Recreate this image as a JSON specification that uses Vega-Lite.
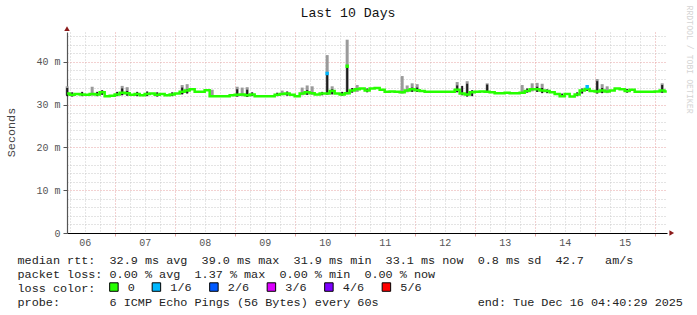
{
  "$schema": "https://vega.github.io/schema/vega-lite/v6.json",
  "width": 600,
  "height": 201,
  "autosize": {"type": "none"},
  "padding": {"left": 67, "top": 32, "right": 30, "bottom": 82},
  "background": "#ffffff",
  "config": {
    "view": {"stroke": null},
    "font": "Liberation Mono",
    "axis": {"labelFont": "Liberation Mono", "titleFont": "Liberation Mono"},
    "legend": {"labelFont": "Liberation Mono", "titleFont": "Liberation Mono"}
  },
  "title": {"text": "Last 10 Days", "font": "Liberation Mono", "fontSize": 13.2, "fontWeight": "normal", "color": "#111111", "anchor": "middle", "frame": "group", "dx": -19, "offset": -15},
  "resolve": {"axis": {"y": "independent"}},
  "data": {
    "values": [
      {"t":"2025-12-06T05:00Z","m":32.6,"g1":32.2,"g2":34.3,"d1":32.0,"d2":33.9},
      {"t":"2025-12-06T07:00Z","m":32.3,"d1":31.9,"d2":32.9},
      {"t":"2025-12-06T09:00Z","m":32.5},
      {"t":"2025-12-06T11:00Z","m":32.4,"d1":32.0,"d2":33.0},
      {"t":"2025-12-06T13:00Z","m":32.3},
      {"t":"2025-12-06T15:00Z","m":32.5,"g1":32.1,"g2":34.2},
      {"t":"2025-12-06T17:00Z","m":32.4,"d1":32.0,"d2":33.0},
      {"t":"2025-12-06T19:00Z","m":32.9,"d1":32.3,"d2":33.4},
      {"t":"2025-12-06T21:00Z","m":32.0},
      {"t":"2025-12-06T23:00Z","m":32.1},
      {"t":"2025-12-07T01:00Z","m":32.4,"d1":32.0,"d2":33.0},
      {"t":"2025-12-07T03:00Z","m":32.8,"g1":32.3,"g2":34.4,"d1":32.2,"d2":33.8},
      {"t":"2025-12-07T05:00Z","m":32.7,"g1":32.2,"g2":34.1,"d1":32.1,"d2":33.2},
      {"t":"2025-12-07T07:00Z","m":32.3},
      {"t":"2025-12-07T09:00Z","m":32.5,"d1":32.0,"d2":33.0},
      {"t":"2025-12-07T11:00Z","m":32.2},
      {"t":"2025-12-07T13:00Z","m":32.5,"d1":32.0,"d2":33.1},
      {"t":"2025-12-07T15:00Z","m":32.6},
      {"t":"2025-12-07T17:00Z","m":32.3,"d1":31.9,"d2":32.9},
      {"t":"2025-12-07T19:00Z","m":32.5},
      {"t":"2025-12-07T21:00Z","m":32.2},
      {"t":"2025-12-07T23:00Z","m":32.4,"d1":32.0,"d2":32.9},
      {"t":"2025-12-08T01:00Z","m":32.6},
      {"t":"2025-12-08T03:00Z","m":33.0,"g1":32.5,"g2":34.6,"d1":32.4,"d2":34.0},
      {"t":"2025-12-08T05:00Z","m":33.3,"g1":32.8,"g2":34.8,"d1":32.6,"d2":33.6},
      {"t":"2025-12-08T07:00Z","m":33.6},
      {"t":"2025-12-08T09:00Z","m":33.0},
      {"t":"2025-12-08T11:00Z","m":33.0},
      {"t":"2025-12-08T13:00Z","m":33.4},
      {"t":"2025-12-08T15:00Z","m":32.0,"g1":31.9,"g2":33.5},
      {"t":"2025-12-08T17:00Z","m":32.0},
      {"t":"2025-12-08T19:00Z","m":32.0},
      {"t":"2025-12-08T21:00Z","m":32.0},
      {"t":"2025-12-08T23:00Z","m":32.2},
      {"t":"2025-12-09T01:00Z","m":32.3,"g1":31.9,"g2":34.2,"d1":31.9,"d2":33.6},
      {"t":"2025-12-09T03:00Z","m":32.4,"g1":32.0,"g2":34.0},
      {"t":"2025-12-09T05:00Z","m":32.2,"g1":31.9,"g2":34.1,"d1":31.8,"d2":33.5},
      {"t":"2025-12-09T07:00Z","m":32.4,"d1":32.0,"d2":32.9},
      {"t":"2025-12-09T09:00Z","m":32.0},
      {"t":"2025-12-09T11:00Z","m":32.0},
      {"t":"2025-12-09T13:00Z","m":32.0},
      {"t":"2025-12-09T15:00Z","m":32.0},
      {"t":"2025-12-09T17:00Z","m":32.3,"d1":32.0,"d2":32.8},
      {"t":"2025-12-09T19:00Z","m":32.5,"g1":32.2,"g2":33.3},
      {"t":"2025-12-09T21:00Z","m":32.6,"d1":32.1,"d2":33.1},
      {"t":"2025-12-09T23:00Z","m":32.3},
      {"t":"2025-12-10T01:00Z","m":32.0},
      {"t":"2025-12-10T03:00Z","m":32.6,"g1":32.2,"g2":34.0},
      {"t":"2025-12-10T05:00Z","m":32.9,"g1":32.4,"g2":34.5,"d1":32.3,"d2":33.4},
      {"t":"2025-12-10T07:00Z","m":32.7,"g1":32.3,"g2":34.3},
      {"t":"2025-12-10T09:00Z","m":32.4},
      {"t":"2025-12-10T11:00Z","m":32.6,"d1":32.2,"d2":33.0},
      {"t":"2025-12-10T13:00Z","m":32.6,"g1":32.3,"g2":41.6,"d1":32.4,"d2":37.3,"pk":37.3,"loss":"1/6"},
      {"t":"2025-12-10T15:00Z","m":33.2,"g1":32.6,"g2":34.3,"d1":32.4,"d2":33.6},
      {"t":"2025-12-10T17:00Z","m":32.6},
      {"t":"2025-12-10T19:00Z","m":32.4,"d1":32.1,"d2":33.0},
      {"t":"2025-12-10T21:00Z","m":32.7,"g1":32.4,"g2":45.2,"d1":32.5,"d2":39.0,"pk":39.0,"loss":"0"},
      {"t":"2025-12-10T23:00Z","m":33.3,"d1":32.8,"d2":33.9},
      {"t":"2025-12-11T01:00Z","m":33.6,"g1":33.0,"g2":34.6},
      {"t":"2025-12-11T03:00Z","m":33.8},
      {"t":"2025-12-11T05:00Z","m":33.3,"d1":32.9,"d2":33.8},
      {"t":"2025-12-11T07:00Z","m":33.8},
      {"t":"2025-12-11T09:00Z","m":33.9},
      {"t":"2025-12-11T11:00Z","m":33.5},
      {"t":"2025-12-11T13:00Z","m":33.0},
      {"t":"2025-12-11T15:00Z","m":33.1},
      {"t":"2025-12-11T17:00Z","m":33.0},
      {"t":"2025-12-11T19:00Z","m":32.9,"g1":32.6,"g2":36.7},
      {"t":"2025-12-11T21:00Z","m":33.3,"g1":32.9,"g2":34.5},
      {"t":"2025-12-11T23:00Z","m":33.6,"g1":33.1,"g2":35.0,"d1":33.0,"d2":34.0},
      {"t":"2025-12-12T01:00Z","m":33.4,"g1":33.0,"g2":34.8,"d1":33.0,"d2":34.0},
      {"t":"2025-12-12T03:00Z","m":33.2},
      {"t":"2025-12-12T05:00Z","m":33.0},
      {"t":"2025-12-12T07:00Z","m":33.0},
      {"t":"2025-12-12T09:00Z","m":33.0},
      {"t":"2025-12-12T11:00Z","m":33.0},
      {"t":"2025-12-12T13:00Z","m":33.0},
      {"t":"2025-12-12T15:00Z","m":33.0},
      {"t":"2025-12-12T17:00Z","m":33.5,"g1":33.0,"g2":35.3,"d1":32.9,"d2":34.5},
      {"t":"2025-12-12T19:00Z","m":32.6,"d1":32.2,"d2":34.4},
      {"t":"2025-12-12T21:00Z","m":32.4,"g1":32.0,"g2":35.5,"d1":31.9,"d2":34.9},
      {"t":"2025-12-12T23:00Z","m":32.9,"d1":32.0,"d2":33.4},
      {"t":"2025-12-13T01:00Z","m":33.0},
      {"t":"2025-12-13T03:00Z","m":33.1},
      {"t":"2025-12-13T05:00Z","m":33.0,"g1":32.8,"g2":35.0,"d1":32.8,"d2":34.7},
      {"t":"2025-12-13T07:00Z","m":32.9},
      {"t":"2025-12-13T09:00Z","m":32.7},
      {"t":"2025-12-13T11:00Z","m":32.7},
      {"t":"2025-12-13T13:00Z","m":32.8},
      {"t":"2025-12-13T15:00Z","m":32.7},
      {"t":"2025-12-13T17:00Z","m":32.7},
      {"t":"2025-12-13T19:00Z","m":32.8,"g1":32.5,"g2":34.6},
      {"t":"2025-12-13T21:00Z","m":33.2,"d1":32.8,"d2":33.8},
      {"t":"2025-12-13T23:00Z","m":33.6,"g1":33.1,"g2":35.0},
      {"t":"2025-12-14T01:00Z","m":33.6,"g1":33.0,"g2":35.1,"d1":33.0,"d2":34.2},
      {"t":"2025-12-14T03:00Z","m":33.3,"g1":32.9,"g2":34.9,"d1":32.7,"d2":33.9},
      {"t":"2025-12-14T05:00Z","m":33.2,"d1":32.7,"d2":33.6},
      {"t":"2025-12-14T07:00Z","m":32.9},
      {"t":"2025-12-14T09:00Z","m":32.5},
      {"t":"2025-12-14T11:00Z","m":32.0,"d1":31.8,"d2":32.6},
      {"t":"2025-12-14T13:00Z","m":32.5},
      {"t":"2025-12-14T15:00Z","m":31.9},
      {"t":"2025-12-14T17:00Z","m":32.4,"d1":32.0,"d2":32.9},
      {"t":"2025-12-14T19:00Z","m":33.3,"d1":32.6,"d2":33.8},
      {"t":"2025-12-14T21:00Z","m":33.7,"d1":33.2,"d2":34.3,"pk":34.2,"loss":"1/6"},
      {"t":"2025-12-14T23:00Z","m":33.2},
      {"t":"2025-12-15T01:00Z","m":33.1,"g1":32.7,"g2":36.0,"d1":32.6,"d2":35.5},
      {"t":"2025-12-15T03:00Z","m":33.3,"g1":32.8,"g2":34.8,"d1":32.7,"d2":33.9},
      {"t":"2025-12-15T05:00Z","m":33.1,"g1":32.7,"g2":34.3},
      {"t":"2025-12-15T07:00Z","m":33.3},
      {"t":"2025-12-15T09:00Z","m":33.8},
      {"t":"2025-12-15T11:00Z","m":33.6},
      {"t":"2025-12-15T13:00Z","m":33.2,"d1":32.8,"d2":33.7},
      {"t":"2025-12-15T15:00Z","m":33.5},
      {"t":"2025-12-15T17:00Z","m":33.0},
      {"t":"2025-12-15T19:00Z","m":33.0},
      {"t":"2025-12-15T21:00Z","m":33.0},
      {"t":"2025-12-15T23:00Z","m":33.0},
      {"t":"2025-12-16T01:00Z","m":33.1},
      {"t":"2025-12-16T03:00Z","m":33.3,"g1":32.8,"g2":35.0,"d1":32.8,"d2":34.6},
      {"t":"2025-12-16T04:50Z","m":33.1}
    ]
  },
  "layer": [
    {
      "mark": {"type": "rule", "color": "#9a9a9a", "strokeWidth": 3},
      "encoding": {
        "x": {
          "field": "t", "type": "temporal",
          "scale": {"type": "utc", "domain": [1764996960000, 1765860960000]},
          "axis": {
            "orient": "bottom",
            "tickCount": 40,
            "labelExpr": "utchours(datum.value) == 12 ? utcFormat(datum.value, '%d') : ''",
            "labelFontSize": 10, "labelColor": "#555555", "labelPadding": 1,
            "labelOverlap": false, "labelBound": false, "labelFlush": false,
            "grid": true,
            "gridColor": {"condition": {"test": "utchours(datum.value) == 0", "value": "#e6a3a3"}, "value": "#cccccc"},
            "gridDash": [1, 2],
            "ticks": true, "tickSize": 3,
            "tickColor": {"condition": {"test": "utchours(datum.value) == 0", "value": "#e6a3a3"}, "value": "rgba(0,0,0,0)"},
            "domain": true, "domainColor": "#000000", "domainWidth": 1.2,
            "title": [
              "median rtt:\u00a0\u00a032.9 ms avg\u00a0\u00a039.0 ms max\u00a0\u00a031.9 ms min\u00a0\u00a033.1 ms now\u00a0\u00a00.8 ms sd\u00a0\u00a042.7\u00a0\u00a0\u00a0am/s",
              "packet loss: 0.00 % avg\u00a0\u00a01.37 % max\u00a0\u00a00.00 % min\u00a0\u00a00.00 % now",
              "loss color:",
              "probe:\u00a0\u00a0\u00a0\u00a0\u00a0\u00a0\u00a06 ICMP Echo Pings (56 Bytes) every 60s\u00a0\u00a0\u00a0\u00a0\u00a0\u00a0\u00a0\u00a0\u00a0\u00a0\u00a0\u00a0\u00a0\u00a0end: Tue Dec 16 04:40:29 2025"
            ],
            "titleX": -50, "titleY": 30, "titleAlign": "left",
            "titleBaseline": "alphabetic", "titleLineHeight": 14,
            "titleFontSize": 11.8, "titleFontWeight": "normal", "titleColor": "#222222"
          }
        },
        "y": {
          "field": "g1", "type": "quantitative",
          "scale": {"domain": [0, 47], "nice": false, "zero": false},
          "axis": {
            "orient": "left",
            "values": [0, 2, 4, 6, 8, 10, 12, 14, 16, 18, 20, 22, 24, 26, 28, 30, 32, 34, 36, 38, 40, 42, 44, 46],
            "labelExpr": "datum.value % 10 === 0 ? (datum.value === 0 ? '0' : datum.value + ' m') : ''",
            "labelFontSize": 10, "labelColor": "#555555", "labelPadding": 3,
            "labelOverlap": false, "labelBound": false, "labelFlush": false,
            "grid": true,
            "gridColor": {"condition": {"test": "datum.value % 10 === 0", "value": "#e6a3a3"}, "value": "#c8c8c8"},
            "gridDash": [1, 2],
            "ticks": true, "tickSize": 4,
            "tickColor": {"condition": {"test": "datum.value % 10 === 0", "value": "#555555"}, "value": "rgba(0,0,0,0)"},
            "domain": true, "domainColor": "#555555", "domainWidth": 1.2,
            "title": "Seconds",
            "titleX": -57, "titleY": 100, "titleAngle": -90, "titleAlign": "center", "titleBaseline": "middle",
            "titleFontSize": 11.8, "titleFontWeight": "normal", "titleColor": "#444444"
          }
        },
        "y2": {"field": "g2"}
      }
    },
    {
      "mark": {"type": "rule", "color": "#1c1c1c", "strokeWidth": 2},
      "encoding": {
        "x": {"field": "t", "type": "temporal"},
        "y": {
          "field": "d1", "type": "quantitative",
          "axis": {
            "orient": "right", "labels": false, "ticks": false, "domain": false, "grid": false,
            "title": "RRDTOOL / TOBI OETIKER", "titleX": 21, "titleY": -27, "titleAngle": 90,
            "titleAlign": "left", "titleBaseline": "middle",
            "titleFontSize": 8.2, "titleFontWeight": "normal", "titleColor": "#d4d4d4"
          }
        },
        "y2": {"field": "d2"}
      }
    },
    {
      "mark": {"type": "line", "color": "#26ff00", "strokeWidth": 2.5, "interpolate": "step"},
      "encoding": {
        "x": {"field": "t", "type": "temporal"},
        "y": {"field": "m", "type": "quantitative", "axis": null}
      }
    },
    {
      "mark": {"type": "square", "size": 12, "opacity": 1},
      "encoding": {
        "x": {"field": "t", "type": "temporal"},
        "y": {"field": "pk", "type": "quantitative", "axis": null},
        "color": {
          "field": "loss", "type": "nominal",
          "scale": {"domain": ["0", "1/6", "2/6", "3/6", "4/6", "5/6"], "range": ["#26ff00", "#00b8ff", "#0059ff", "#dd00ff", "#7e00ff", "#ff0000"]},
          "legend": {
            "orient": "none", "legendX": 41, "legendY": 249, "direction": "horizontal", "columns": 6,
            "title": null,
            "labelFontSize": 11.8, "labelColor": "#222222", "labelOffset": 8, "columnPadding": 14.5,
            "symbolType": "square", "symbolSize": 72, "symbolOpacity": 1, "padding": 0,
            "symbolStrokeColor": "#000000", "symbolStrokeWidth": 1
          }
        }
      }
    },
    {
      "data": {"values": [{}]},
      "mark": {"type": "point", "shape": "triangle-up", "filled": true, "color": "#8b1a1a", "size": 30, "opacity": 1},
      "encoding": {
        "x": {"datum": 1764996960000, "type": "temporal"},
        "y": {"datum": 47.8, "type": "quantitative", "axis": null}
      }
    },
    {
      "data": {"values": [{}]},
      "mark": {"type": "point", "shape": "triangle-right", "filled": true, "color": "#8b1a1a", "size": 30, "opacity": 1},
      "encoding": {
        "x": {"datum": 1765867800000, "type": "temporal"},
        "y": {"datum": 0, "type": "quantitative", "axis": null}
      }
    }
  ]
}
